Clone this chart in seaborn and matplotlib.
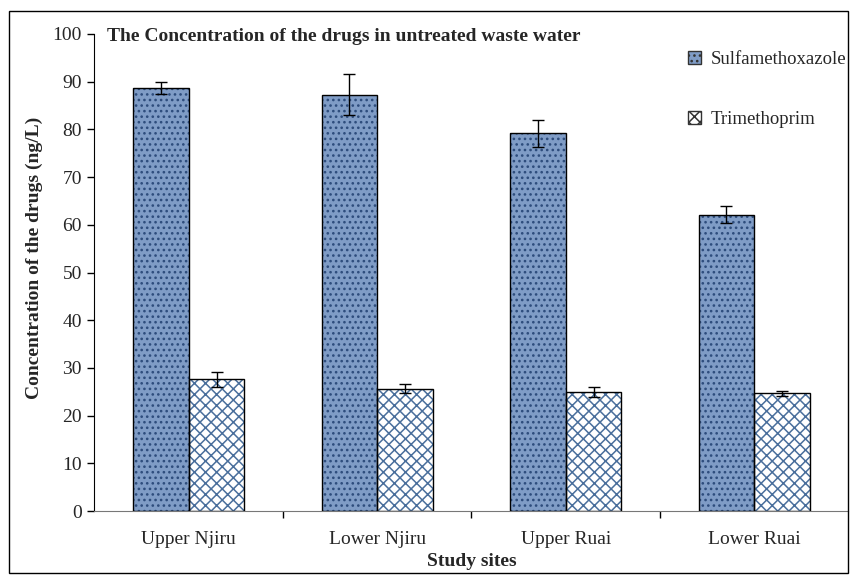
import matplotlib
matplotlib.use("Agg")

import pandas as pd
import matplotlib.pyplot as plt
import seaborn as sns
from matplotlib.patches import Patch, Rectangle

# 数据
sites = ['Upper Njiru', 'Lower Njiru', 'Upper Ruai', 'Lower Ruai']
drugs = ['Sulfamethoxazole', 'Trimethoprim']
sulfa = [88.7, 87.3, 79.2, 62.1]
sulfa_err = [1.2, 4.3, 2.8, 1.8]
trime = [27.6, 25.7, 25.0, 24.7]
trime_err = [1.6, 0.9, 1.0, 0.5]

df = pd.DataFrame({
    'site': sites * 2,
    'drug': [drugs[0]] * 4 + [drugs[1]] * 4,
    'conc': sulfa + trime,
})

sns.set_style('white')
plt.rcParams['font.family'] = ['Liberation Serif', 'DejaVu Serif']
plt.rcParams['hatch.linewidth'] = 1.1

fig = plt.figure(figsize=(8.51, 5.75), dpi=100)
ax = fig.add_axes([0.111, 0.111, 0.886, 0.830])

sns.barplot(data=df, x='site', y='conc', hue='drug', order=sites,
            hue_order=drugs, errorbar=None, width=0.59, ax=ax, legend=False)

styles = {
    drugs[0]: dict(face='#7f9cc6', hatch='...', hcol='#2d4c7c'),
    drugs[1]: dict(face='white', hatch='xxx', hcol='#4a6f9c'),
}

# 填充图案 + 黑色边框
bars = ax.patches[:8]
for i, p in enumerate(bars):
    st = styles[drugs[i // 4]]
    p.set_facecolor(st['face'])
    p.set_hatch(st['hatch'])
    p.set_edgecolor(st['hcol'])
    p.set_linewidth(0)
    ax.add_patch(Rectangle((p.get_x(), p.get_y()), p.get_width(), p.get_height(),
                           fill=False, edgecolor='black', linewidth=1.0, zorder=3))

# 误差线
errs = sulfa_err + trime_err
vals = sulfa + trime
xs = [p.get_x() + p.get_width() / 2 for p in bars]
ax.errorbar(xs, vals, yerr=errs, fmt='none', ecolor='black', elinewidth=1,
            capsize=4, capthick=1, zorder=4)

ax.set_ylim(0, 100)
ax.set_xlim(-0.5, 3.5)
ax.set_yticks(range(0, 101, 10))
ax.tick_params(axis='y', direction='out', length=5, width=1, labelsize=14,
               left=True, color='black', pad=4)
ax.tick_params(axis='x', length=0, labelsize=14, pad=14)
ax.set_xticks([0.5, 1.5, 2.5], minor=True)
ax.tick_params(axis='x', which='minor', direction='out', length=5, width=1,
               bottom=True, color='black')

for s in ['top', 'right']:
    ax.spines[s].set_visible(False)
ax.spines['left'].set_color('black')
ax.spines['bottom'].set_color('#777777')

ax.set_xlabel('Study sites', fontsize=14, fontweight='bold', labelpad=4)
ax.set_ylabel('Concentration of the drugs (ng/L)', fontsize=14,
              fontweight='bold', labelpad=6)
ax.yaxis.set_label_coords(-0.068, 0.53)

ax.text(0.016, 0.995, 'The Concentration of the drugs in untreated waste water',
        transform=ax.transAxes, fontsize=14, fontweight='bold', va='center')

handles = [Patch(facecolor=styles[d]['face'], edgecolor='#333333',
                 hatch=styles[d]['hatch'], label=d) for d in drugs]
ax.legend(handles=handles, loc='upper left', bbox_to_anchor=(0.765, 1.0),
          frameon=False, fontsize=13.5, handlelength=0.7, handleheight=0.7,
          handletextpad=0.5, labelspacing=2.3)

# 外框
fig.add_artist(Rectangle((0.011, 0.003), 0.986, 0.978, transform=fig.transFigure,
                         fill=False, edgecolor='black', linewidth=1))

plt.savefig('out.png', dpi=100)
plt.close()
